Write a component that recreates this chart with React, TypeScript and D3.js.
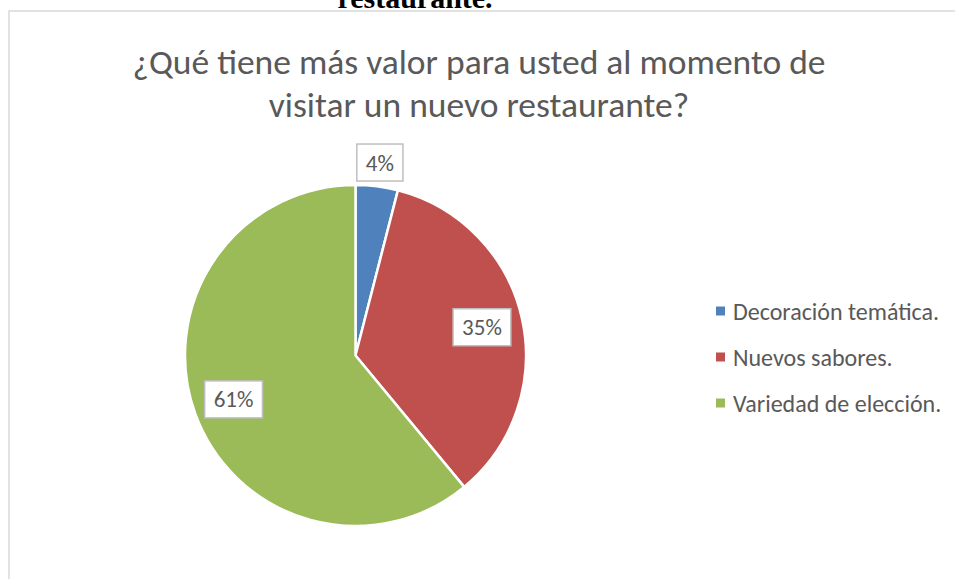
import React, { useEffect, useRef } from "react";
import * as d3 from "d3";

const categories = ["Decoración temática.", "Nuevos sabores.", "Variedad de elección."];
const values = [4, 35, 61];
const colors = ["#4f81bd", "#c0504d", "#9bbb59"];
const titleLines = ["¿Qué tiene más valor para usted al momento de", "visitar un nuevo restaurante?"];
const headingAbove = "restaurante.";

const W = 955;
const H = 579;
const FONT = "Carlito, Calibri, Lato, 'Open Sans', sans-serif";
const TEXT = "#595959";

export default function App() {
  const ref = useRef<SVGSVGElement | null>(null);

  useEffect(() => {
    const svg = d3.select(ref.current);
    svg.selectAll("*").remove();

    svg.append("rect").attr("width", W).attr("height", H).attr("fill", "#fff");

    // document heading above the chart (cut by the page top, as in the source)
    svg.append("text")
      .attr("x", 415).attr("y", 8)
      .attr("text-anchor", "middle")
      .attr("font-family", "'Liberation Serif', 'Times New Roman', serif")
      .attr("font-weight", "bold")
      .attr("font-size", 30)
      .attr("fill", "#000")
      .text(headingAbove);

    // chart frame
    svg.append("rect")
      .attr("x", 9).attr("y", 11)
      .attr("width", 1200).attr("height", 1200)
      .attr("fill", "#fff")
      .attr("stroke", "#d9d9d9")
      .attr("stroke-width", 1.5);

    // title
    const title = svg.append("text")
      .attr("text-anchor", "middle")
      .attr("font-family", FONT)
      .attr("font-size", 35.5)
      .attr("fill", TEXT);
    titleLines.forEach((line, i) => {
      title.append("tspan").attr("x", 479).attr("y", 74 + i * 43).text(line);
    });

    const cx = 355.5, cy = 355.5, R = 170.5;
    const g = svg.append("g").attr("transform", `translate(${cx},${cy})`);
    const pie = d3.pie<number>().sort(null).value((d) => d);
    const arcs = pie(values);
    const arc = d3.arc<d3.PieArcDatum<number>>().innerRadius(0).outerRadius(R);

    g.selectAll("path.slice")
      .data(arcs)
      .enter()
      .append("path")
      .attr("class", "slice")
      .attr("d", arc)
      .attr("fill", (_, i) => colors[i])
      .attr("stroke", "#fff")
      .attr("stroke-width", 2.5)
      .attr("stroke-linejoin", "round");

    const total = d3.sum(values);
    arcs.forEach((a) => {
      const pct = a.value / total;
      const mid = (a.startAngle + a.endAngle) / 2;
      const r = pct < 0.1 ? R + 24 : R * 0.76;
      const x = Math.sin(mid) * r;
      const y = -Math.cos(mid) * r;
      const lg = g.append("g").attr("transform", `translate(${x},${y})`);
      const rect = lg.append("rect").attr("fill", "#fff").attr("stroke", "#bfbfbf").attr("stroke-width", 1.5);
      const t = lg.append("text")
        .attr("text-anchor", "middle")
        .attr("dominant-baseline", "central")
        .attr("font-family", FONT)
        .attr("font-size", 23)
        .attr("fill", TEXT)
        .text(`${Math.round(pct * 100)}%`);
      const tw = (t.node() as SVGTextElement).getComputedTextLength();
      const bw = tw + 18, bh = 37;
      rect.attr("x", -bw / 2).attr("y", -bh / 2).attr("width", bw).attr("height", bh);
    });

    // legend
    const legend = svg.append("g");
    categories.forEach((c, i) => {
      const yy = 311 + i * 46;
      legend.append("rect")
        .attr("x", 716).attr("y", yy - 4.5)
        .attr("width", 9).attr("height", 9)
        .attr("fill", colors[i]);
      legend.append("text")
        .attr("x", 733).attr("y", yy)
        .attr("dominant-baseline", "central")
        .attr("font-family", FONT)
        .attr("font-size", 24)
        .attr("fill", TEXT)
        .text(c);
    });
  }, []);

  return (
    <svg
      ref={ref}
      width={W}
      height={H}
      style={{ position: "absolute", left: 0, top: 0, display: "block" }}
    />
  );
}
